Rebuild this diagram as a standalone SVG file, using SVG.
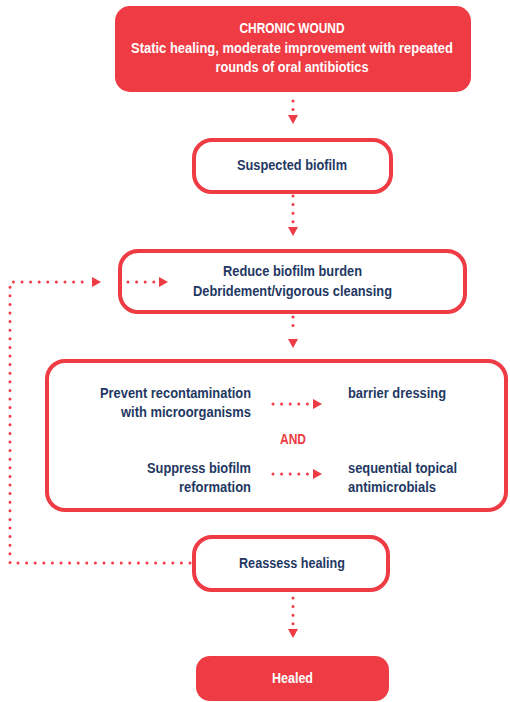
<svg xmlns="http://www.w3.org/2000/svg" width="510" height="702" viewBox="0 0 510 702">
<defs>
<style>
.t{font-family:"Liberation Sans",Arial,sans-serif;font-weight:bold;font-size:14.5px}
.n{fill:#1f3863}
.w{fill:#ffffff}
.r{fill:#ee3b44}
.box{fill:#ffffff;stroke:#ee3b44;stroke-width:4}
.solid{fill:#ee3b44}
.dot{fill:none;stroke:#ee3b44;stroke-width:3;stroke-linecap:round;stroke-dasharray:0 8.6;marker-end:url(#ah)}
</style>
<marker id="ah" markerUnits="userSpaceOnUse" markerWidth="20" markerHeight="12" refX="-5" refY="5" orient="auto" overflow="visible">
<path d="M0,0 L9,5 L0,10 z" fill="#ee3b44"/>
</marker>
</defs>
<g id="chronic">
<rect class="solid" x="115" y="6" width="356" height="86" rx="15"/>
<text class="t w" text-anchor="middle" x="292" y="33" textLength="105" lengthAdjust="spacingAndGlyphs">CHRONIC WOUND</text>
<text class="t w" text-anchor="middle" x="292" y="53" textLength="322" lengthAdjust="spacingAndGlyphs">Static healing, moderate improvement with repeated</text>
<text class="t w" text-anchor="middle" x="292" y="72" textLength="153" lengthAdjust="spacingAndGlyphs">rounds of oral antibiotics</text>
</g>
<g id="suspected">
<rect class="box" x="194" y="140" width="197" height="52" rx="18"/>
<text class="t n" text-anchor="middle" x="292" y="170" textLength="110" lengthAdjust="spacingAndGlyphs">Suspected biofilm</text>
</g>
<g id="reduce">
<rect class="box" x="120" y="251" width="345" height="61" rx="18"/>
<text class="t n" text-anchor="middle" x="292.5" y="276" textLength="139" lengthAdjust="spacingAndGlyphs">Reduce biofilm burden</text>
<text class="t n" text-anchor="middle" x="292.5" y="296" textLength="199" lengthAdjust="spacingAndGlyphs">Debridement/vigorous cleansing</text>
</g>
<g id="prevent">
<rect class="box" x="47" y="361" width="459" height="149" rx="18"/>
<text class="t n" text-anchor="end" x="251" y="398" textLength="151" lengthAdjust="spacingAndGlyphs">Prevent recontamination</text>
<text class="t n" text-anchor="end" x="251" y="417" textLength="130" lengthAdjust="spacingAndGlyphs">with microorganisms</text>
<text class="t n" x="348" y="398" textLength="98" lengthAdjust="spacingAndGlyphs">barrier dressing</text>
<text class="t r" text-anchor="middle" x="293" y="444" textLength="26" lengthAdjust="spacingAndGlyphs">AND</text>
<text class="t n" text-anchor="end" x="251" y="473" textLength="104" lengthAdjust="spacingAndGlyphs">Suppress biofilm</text>
<text class="t n" text-anchor="end" x="251" y="492" textLength="72" lengthAdjust="spacingAndGlyphs">reformation</text>
<text class="t n" x="348" y="473" textLength="109" lengthAdjust="spacingAndGlyphs">sequential topical</text>
<text class="t n" x="348" y="492" textLength="88" lengthAdjust="spacingAndGlyphs">antimicrobials</text>
</g>
<g id="reassess">
<rect class="box" x="194" y="537" width="194" height="53" rx="18"/>
<text class="t n" text-anchor="middle" x="292" y="568" textLength="106" lengthAdjust="spacingAndGlyphs">Reassess healing</text>
</g>
<g id="healed">
<rect class="solid" x="196" y="656" width="193" height="45" rx="14"/>
<text class="t w" text-anchor="middle" x="292.5" y="683" textLength="41" lengthAdjust="spacingAndGlyphs">Healed</text>
</g>
<g id="connectors">
<path class="dot" d="M293,101 V110"/>
<path class="dot" d="M293,196 V222"/>
<path class="dot" d="M293,317 V334"/>
<path class="dot" d="M293,598 V624"/>
<path class="dot" d="M190,563 H10 V282 H87"/>
<path class="dot" d="M128,282 H154"/>
<path class="dot" d="M273,404 H308"/>
<path class="dot" d="M273,474 H308"/>
</g>
</svg>
